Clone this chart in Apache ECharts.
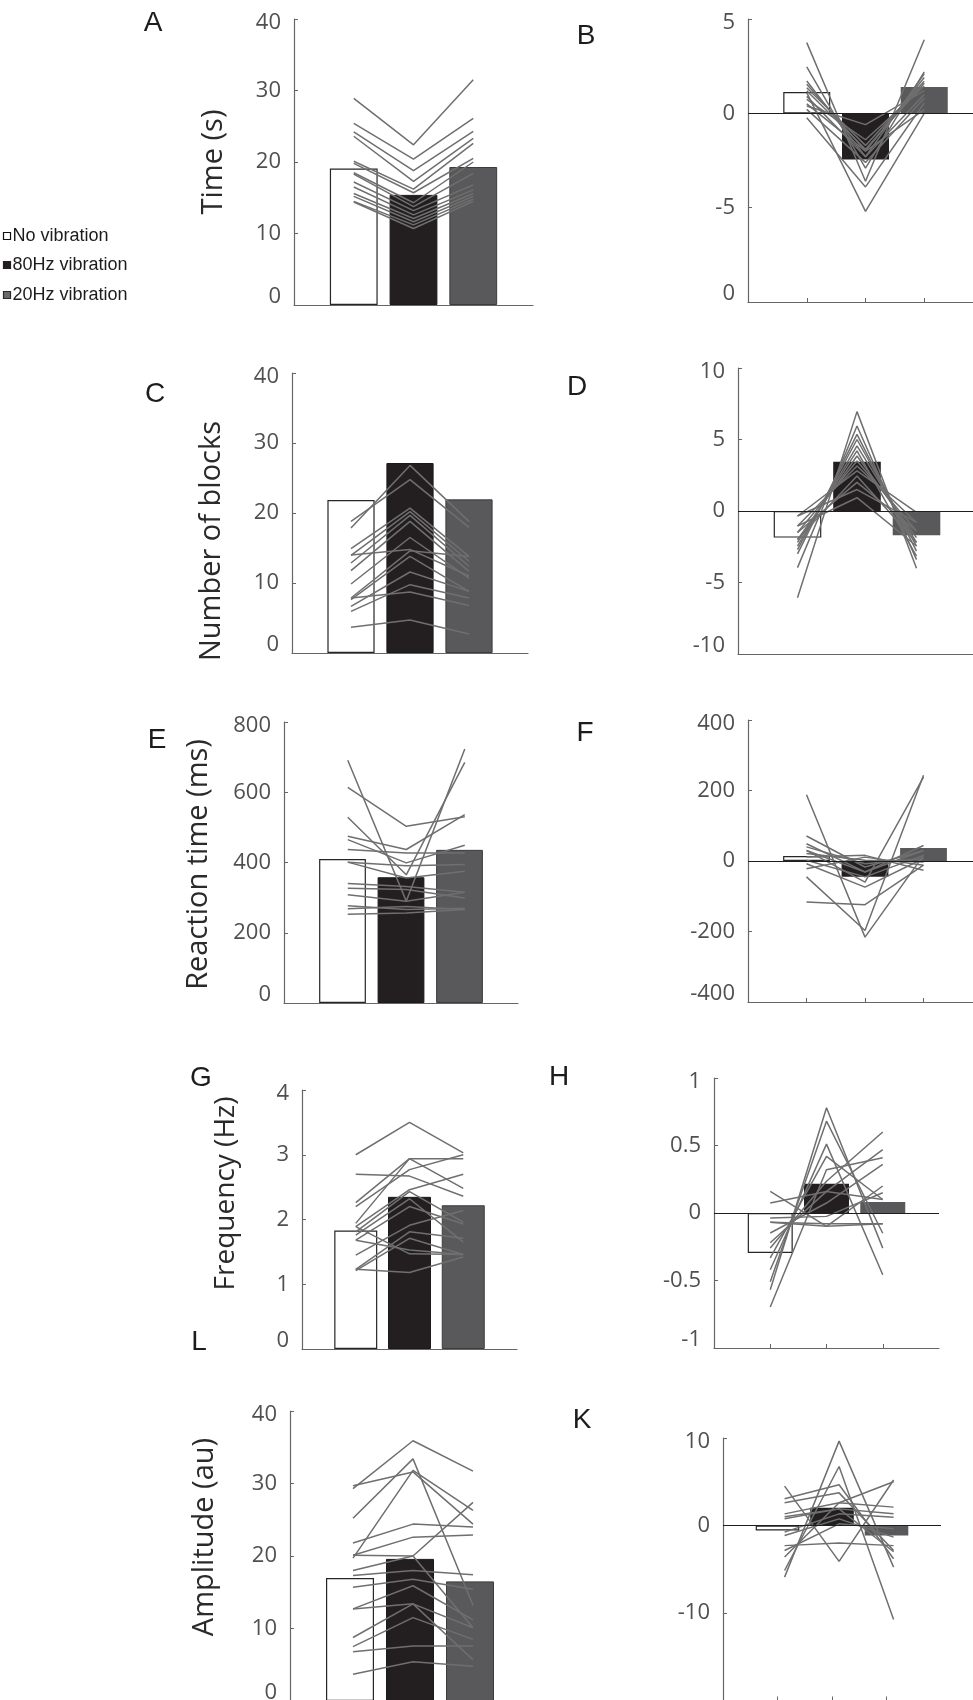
<!DOCTYPE html>
<html>
<head>
<meta charset="utf-8">
<script src="https://cdn.jsdelivr.net/npm/echarts@6/dist/echarts.min.js"></script>
<style>
  html, body { margin: 0; padding: 0; background: #ffffff; }
  #chart { width: 973px; height: 1700px; }
</style>
</head>
<body>
<div id="chart"></div>
<script>
// Conditions, in bar order
const conditions = ['No vibration', '80Hz vibration', '20Hz vibration'];

// A – task completion time (s): group means and per-subject values
const timeMeans = [19.1, 15.4, 19.3];
const timeSubjects = [
  [28.9, 22.4, 31.5], [25.4, 20.4, 26.1], [24.2, 18.8, 24.3], [23.6, 17.3, 23.3],
  [20.1, 16.2, 22.6], [19.8, 15.7, 20.5], [18.5, 14.3, 20.0], [18.3, 13.75, 18.4],
  [17.2, 13.2, 16.8], [16.5, 12.6, 16.1], [15.6, 12.1, 15.6], [15.2, 11.65, 15.2],
  [14.5, 11.2, 14.8], [14.4, 10.7, 14.5]
];
const timeTicks = ['0', '10', '20', '30', '40'];

// B – time, difference from subject mean
const timeDiffMeans = [1.13, -2.45, 1.39];
const timeDiffSubjects = [
  [3.75, -3.6, 3.9], [2.46, -2.9, 2.2], [1.71, -2.3, 2.1], [1.54, -2.0, 1.9],
  [1.36, -1.7, 1.7], [1.1, -5.2, 0.0], [0.74, -1.4, 1.45], [0.39, -0.6, 1.2],
  [0.21, -2.6, 0.8], [-0.23, -3.9, 0.55], [0.9, -2.3, 1.0], [1.2, -1.9, 1.6],
  [0.5, -2.0, 0.2]
];
const timeDiffTicks = ['0', '-5', '0', '5'];

// C – number of blocks
const blockMeans = [21.86, 27.14, 21.95];
const blockSubjects = [
  [17.86, 26.8, 18.8], [18.8, 24.76, 17.95], [14.9, 20.7, 13.8], [13.95, 20.2, 13.1],
  [12.86, 19.67, 12.4], [11.76, 18.8, 11.67], [9.86, 16.5, 10.7], [7.86, 14.6, 13.8],
  [7.62, 13.8, 8.8], [6.67, 11.57, 8.8], [5.95, 9.76, 7.86], [7.86, 8.7, 6.8],
  [3.67, 4.7, 2.7], [14.0, 14.8, 11.0]
];
const blockTicks = ['0', '10', '20', '30', '40'];

// D – number of blocks, difference
const blockDiffMeans = [-1.86, 3.45, -1.7];
const blockDiffSubjects = [
  [-6.06, 6.95, -4.0], [-3.96, 5.94, -3.4], [-3.0, 5.36, -2.8], [-2.7, 5.0, -2.45],
  [-2.45, 4.55, -2.2], [-2.2, 4.2, -3.15], [-2.0, 3.85, -1.86], [-1.5, 3.5, -1.4],
  [-1.05, 3.15, -0.8], [-0.35, 2.8, -0.1], [-2.0, 2.45, -2.2], [-1.5, 2.0, -1.4],
  [-0.35, 1.5, -0.8], [-1.05, 0.93, -2.45]
];
const blockDiffTicks = ['-10', '-5', '0', '5', '10'];

// E – reaction time (ms)
const rtMeans = [410, 358, 436];
const rtSubjects = [
  [691, 290, 723], [614, 503, 530], [529, 365, 685], [475, 437, 536],
  [465, 399, 449], [437, 427, 427], [401, 391, 394], [401, 356, 375],
  [340, 332, 315], [327, 323, 299], [308, 290, 315], [277, 266, 270],
  [268, 275, 266], [253, 256, 266]
];
const rtTicks = ['0', '200', '400', '600', '800'];

// F – reaction time, difference
const rtDiffMeans = [14, -45, 37];
const rtDiffSubjects = [
  [188, -216, 16], [-45, -197, 243], [30, -60, 238], [-116, -124, -12],
  [71, -17, 30], [49, -31, 44], [40, -8, 7], [21, 2, -3],
  [11, 16, -26], [2, -45, 16], [-8, -74, 7], [-22, 11, -12], [30, -31, 30]
];
const rtDiffTicks = ['-400', '-200', '0', '200', '400'];

// G – tapping frequency (Hz)
const freqMeans = [1.83, 2.35, 2.22];
const freqSubjects = [
  [3.0, 3.5, 3.03], [2.7, 2.67, 2.36], [2.26, 2.94, 2.48], [2.2, 2.77, 3.0],
  [1.94, 2.94, 2.94], [1.89, 2.46, 2.7], [1.81, 2.43, 1.96], [1.76, 2.32, 1.65],
  [1.68, 2.2, 1.93], [1.45, 1.91, 2.14], [1.23, 1.81, 1.71], [1.21, 1.71, 1.46],
  [1.68, 1.53, 1.46], [1.23, 1.18, 1.42], [1.89, 1.47, 1.46]
];
const freqTicks = ['0', '1', '2', '3', '4'];

// H – frequency, difference
const freqDiffMeans = [-0.296, 0.217, 0.081];
const freqDiffSubjects = [
  [-0.696, 0.32, 0.41], [-0.568, 0.78, -0.26], [-0.51, 0.68, -0.15], [-0.42, 0.51, -0.457],
  [-0.333, 0.42, 0.1], [-0.26, 0.235, 0.6], [-0.22, 0.16, 0.47], [-0.148, 0.074, 0.36],
  [-0.069, -0.099, 0.2], [-0.037, -0.025, 0.15], [0.16, -0.099, -0.08], [0.074, 0.16, 0.1],
  [-0.069, -0.08, -0.08]
];
const freqDiffTicks = ['-1', '-0.5', '0', '0.5', '1'];

// L – amplitude (au)
const ampMeans = [16.96, 19.6, 16.5];
const ampSubjects = [
  [29.3, 35.9, 31.7], [29.7, 31.6, 24.4], [25.2, 33.4, 13.2], [19.7, 31.8, 26.3],
  [21.8, 24.4, 24.0], [20.1, 22.6, 22.9], [18.0, 20.0, 27.4], [17.3, 18.0, 17.4],
  [15.7, 16.8, 15.4], [12.7, 15.9, 11.2], [8.76, 13.4, 10.1], [7.5, 11.5, 8.5],
  [6.8, 7.6, 7.6], [3.7, 5.4, 4.8], [12.7, 13.4, 5.7], [20.1, 20.0, 10.1]
];
const ampTicks = ['0', '10', '20', '30', '40'];

// K – amplitude, difference
const ampDiffMeans = [-0.57, 2.02, -1.14];
const ampDiffSubjects = [
  [-5.9, 9.64, -4.76], [-5.14, 6.74, -10.74], [4.5, -4.1, 5.2], [3.05, 4.65, -3.8],
  [2.6, 3.73, -2.86], [1.33, 2.6, 2.1], [0.76, 1.9, 1.33], [-0.76, 1.33, 0.95],
  [-1.14, 0.76, -1.33], [-2.3, -2.0, -2.3], [-2.86, 0.19, -0.38], [-3.6, 2.6, 5.0],
  [1.0, 1.9, -3.0]
];
const ampDiffTicks = ['', '-10', '0', '10'];

// Panel definitions (data + axis range)
const panels = [
  { tag: 'A', means: timeMeans, subjects: timeSubjects, ticks: timeTicks, min: 0, max: 40, step: 10, title: 'Time (s)', diff: false },
  { tag: 'B', means: timeDiffMeans, subjects: timeDiffSubjects, ticks: timeDiffTicks, min: -10, max: 5, step: 5, title: '', diff: true, xTicks: true },
  { tag: 'C', means: blockMeans, subjects: blockSubjects, ticks: blockTicks, min: 0, max: 40, step: 10, title: 'Number of blocks', diff: false },
  { tag: 'D', means: blockDiffMeans, subjects: blockDiffSubjects, ticks: blockDiffTicks, min: -10, max: 10, step: 5, title: '', diff: true },
  { tag: 'E', means: rtMeans, subjects: rtSubjects, ticks: rtTicks, min: 0, max: 800, step: 200, title: 'Reaction time (ms)', diff: false },
  { tag: 'F', means: rtDiffMeans, subjects: rtDiffSubjects, ticks: rtDiffTicks, min: -400, max: 400, step: 200, title: '', diff: true, xTicks: true },
  { tag: 'G', means: freqMeans, subjects: freqSubjects, ticks: freqTicks, min: 0, max: 4, step: 1, title: 'Frequency (Hz)', diff: false },
  { tag: 'H', means: freqDiffMeans, subjects: freqDiffSubjects, ticks: freqDiffTicks, min: -1, max: 1, step: 0.5, title: '', diff: true, xTicks: true },
  { tag: 'L', means: ampMeans, subjects: ampSubjects, ticks: ampTicks, min: 0, max: 40, step: 10, title: 'Amplitude (au)', diff: false },
  { tag: 'K', means: ampDiffMeans, subjects: ampDiffSubjects, ticks: ampDiffTicks, min: -20, max: 10, step: 10, title: '', diff: true, xTicks: true }
];

// Page layout: plot box [left, top, width, height], tag centre, axis-title placement
const layout = {
  A: { box: [294, 19, 239, 286], tagAt: [153, 23], gap: 66, nameSize: 29, nameShift: 0, lineShift: 0 },
  B: { box: [748, 19, 235, 283], tagAt: [586, 36], lineShift: 0 },
  C: { box: [292, 373, 236, 280], tagAt: [155, 394], gap: 66, nameSize: 29, nameShift: 28, lineShift: 0 },
  D: { box: [738, 368, 238, 286], tagAt: [577, 387], lineShift: 0 },
  E: { box: [284, 722, 234, 281], tagAt: [157, 740], gap: 71, nameSize: 29, nameShift: 2, lineShift: 0.09 },
  F: { box: [748, 720, 234, 282], tagAt: [585, 733], lineShift: 0 },
  G: { box: [302, 1090, 215, 259], tagAt: [201, 1078], gap: 62, nameSize: 28, nameShift: -26, lineShift: 0 },
  H: { box: [714, 1078, 225, 270], tagAt: [559, 1077], lineShift: 0 },
  L: { box: [290, 1411, 240, 290], tagAt: [199, 1342], gap: 71, nameSize: 29, nameShift: -19, lineShift: 0.05 },
  K: { box: [723, 1438, 218, 262.5], tagAt: [582, 1420], lineShift: 0.13 }
};

const numFont = '"Open Sans", "Noto Sans", sans-serif';
const axisGrey = '#666666';
const tickGrey = '#505050';
const subjectGrey = '#6f6f6f';
const tickSize = 22;

function barStyles(diff) {
  return [
    { color: '#ffffff', borderColor: '#262626', borderWidth: 1.2 },
    { color: '#231f20', borderColor: diff ? '#231f20' : '#1a1a1a', borderWidth: diff ? 0 : 1 },
    { color: '#59595b', borderColor: diff ? '#59595b' : '#3c3c3c', borderWidth: diff ? 0 : 1 }
  ];
}

const grids = [], xAxes = [], yAxes = [], series = [], graphics = [];

panels.forEach((p, i) => {
  const L = layout[p.tag];
  const [left, top, width, height] = L.box;
  grids.push({ left, top, width, height, containLabel: false, outerBoundsMode: 'none' });

  xAxes.push({
    type: 'value', gridIndex: i, min: 0, max: 4,
    axisLine: { show: true, onZero: false, lineStyle: { color: axisGrey, width: 1.2 } },
    axisTick: { show: !!p.xTicks, inside: true, length: 4, customValues: [1, 2, 3], lineStyle: { color: axisGrey } },
    axisLabel: { show: false },
    splitLine: { show: false }
  });

  const last = p.ticks.length - 1;
  const labelRich = {
    lo: { fontSize: tickSize, color: tickGrey, fontFamily: numFont, padding: [0, 0, 16, 0] },
    hi: { fontSize: tickSize, color: tickGrey, fontFamily: numFont, padding: [8, 0, 0, 0] }
  };
  const np = L.nameShift || 0;
  yAxes.push({
    type: 'value', gridIndex: i, min: p.min, max: p.max, interval: p.step,
    name: p.title, nameLocation: 'middle', nameRotate: 90, nameGap: L.gap || 0,
    nameTextStyle: {
      fontSize: L.nameSize || 29, color: '#2a2a2a', fontFamily: numFont,
      padding: np >= 0 ? [0, 2 * np, 0, 0] : [0, 0, 0, -2 * np]
    },
    axisLine: { show: true, lineStyle: { color: axisGrey, width: 1.2 } },
    axisTick: { show: true, inside: true, length: 4, lineStyle: { color: axisGrey } },
    axisLabel: {
      fontSize: tickSize, color: tickGrey, fontFamily: numFont, margin: 13,
      formatter: (v) => {
        const k = Math.round((v - p.min) / p.step);
        const t = p.ticks[k];
        if (t === undefined || t === '') return '';
        if (k === 0) return '{lo|' + t + '}';
        if (k === last) return '{hi|' + t + '}';
        return t;
      },
      rich: labelRich
    },
    splitLine: { show: false }
  });

  const styles = barStyles(p.diff);
  const bar = {
    type: 'bar', xAxisIndex: i, yAxisIndex: i,
    barWidth: 0.8 * width / 4,
    data: p.means.map((m, k) => ({ value: [k + 1, m], name: conditions[k], itemStyle: styles[k] })),
    z: 2, silent: true
  };
  if (p.diff) {
    bar.markLine = {
      silent: true, symbol: 'none', label: { show: false },
      lineStyle: { color: '#1e1e1e', width: 1.1, type: 'solid' },
      data: [{ yAxis: 0 }]
    };
  }
  series.push(bar);

  p.subjects.forEach((s) => {
    series.push({
      type: 'line', xAxisIndex: i, yAxisIndex: i,
      data: s.map((v, k) => [k + 1 + L.lineShift, v]),
      symbol: 'none', silent: true, z: 3,
      lineStyle: { color: subjectGrey, width: 1.5 }
    });
  });

  graphics.push({
    type: 'text', x: L.tagAt[0], y: L.tagAt[1],
    style: { text: p.tag, fill: '#1c1c1c', font: '28px "Liberation Sans", Arial, sans-serif', align: 'center', verticalAlign: 'middle' }
  });
});

// Condition key (left margin)
const keyFont = '18px "Liberation Sans", Arial, sans-serif';
const keyRows = [
  { y: 236, fill: '#ffffff', stroke: '#111111' },
  { y: 265, fill: '#231f20', stroke: '#231f20' },
  { y: 295, fill: '#6a6a6a', stroke: '#2a2a2a' }
];
keyRows.forEach((r, k) => {
  graphics.push({ type: 'rect', shape: { x: 3.5, y: r.y - 3.5, width: 7, height: 7 }, style: { fill: r.fill, stroke: r.stroke, lineWidth: 1.2 } });
  graphics.push({ type: 'text', x: 12.5, y: r.y, style: { text: conditions[k], fill: '#1c1c1c', font: keyFont, verticalAlign: 'middle' } });
});

const chart = echarts.init(document.getElementById('chart'), null, { renderer: 'canvas' });
chart.setOption({
  backgroundColor: '#ffffff',
  animation: false,
  grid: grids,
  xAxis: xAxes,
  yAxis: yAxes,
  series: series,
  graphic: graphics
});
</script>
</body>
</html>
